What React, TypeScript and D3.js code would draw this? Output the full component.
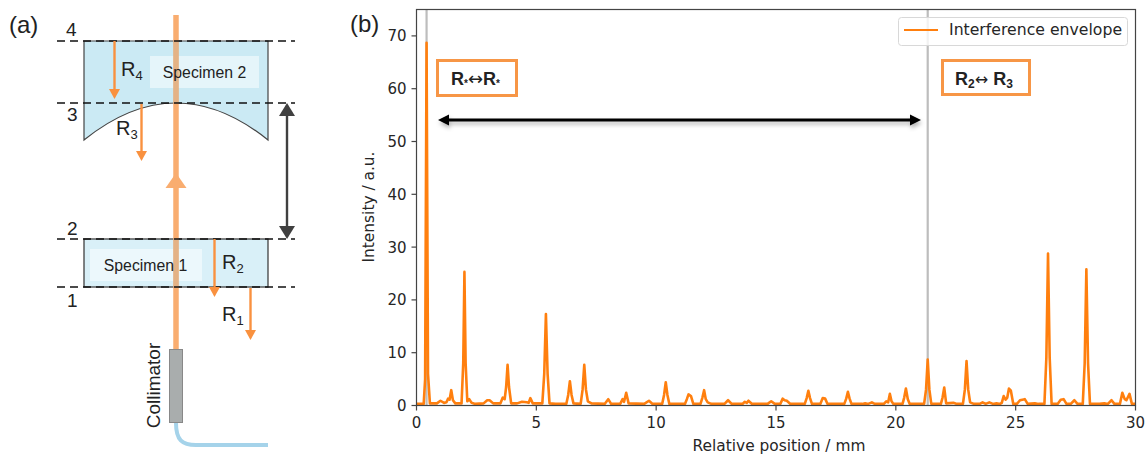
import React from 'react'
import * as d3 from 'd3'

const WIDTH = 1147
const HEIGHT = 457

const xTicks = [0, 5, 10, 15, 20, 25, 30]
const yTicks = [0, 10, 20, 30, 40, 50, 60, 70]
const markerPositions = [0.42, 21.33]

// position in mm
const positions = [
  0, 0.3, 0.36, 0.42, 0.48, 0.56, 0.85, 1.0, 1.15, 1.25, 1.32, 1.38, 1.45, 1.52, 1.62,
  1.88, 1.95, 2.0, 2.05, 2.12, 2.2, 2.3, 2.45, 2.8, 2.95, 3.05, 3.2, 3.5, 3.6, 3.68, 3.74, 3.8, 3.86, 3.95,
  4.2, 4.4, 4.6, 4.68, 4.75, 4.85, 5.25, 5.33, 5.4, 5.47, 5.55, 5.8, 6.25, 6.33, 6.4, 6.47, 6.55,
  6.85, 6.93, 7.0, 7.07, 7.15, 7.3, 7.85, 8.0, 8.12, 8.5, 8.6, 8.66, 8.75, 8.85, 9.5, 9.7, 9.85,
  10.25, 10.33, 10.4, 10.47, 10.55, 11.2, 11.28, 11.35, 11.45, 11.55, 11.85, 11.93, 12.0, 12.07, 12.15, 12.3,
  12.85, 13.0, 13.15, 13.6, 13.7, 13.78, 13.85, 14.0, 14.65, 14.8, 14.95, 15.18, 15.28, 15.36, 15.45, 15.6,
  16.2, 16.28, 16.35, 16.42, 16.5, 16.85, 16.95, 17.05, 17.15, 17.85, 17.93, 18.0, 18.07, 18.15,
  18.6, 18.72, 18.85, 19.0, 19.12, 19.5, 19.6, 19.68, 19.75, 19.82, 19.9, 20.28, 20.35, 20.42, 20.5, 20.58,
  21.18, 21.26, 21.33, 21.4, 21.48, 21.88, 21.95, 22.02, 22.1, 22.4, 22.55,
  22.8, 22.88, 22.95, 23.02, 23.1, 23.25, 23.5, 23.62, 23.75, 23.9, 24.05, 24.2, 24.35,
  24.42, 24.5, 24.58, 24.65, 24.72, 24.8, 24.9, 25.05, 25.18, 25.28, 25.38, 25.5, 25.8, 25.95,
  26.2, 26.28, 26.35, 26.42, 26.5, 26.75, 26.88, 27.0, 27.12, 27.3, 27.45, 27.58,
  27.8, 27.88, 27.95, 28.02, 28.1, 28.5, 28.7, 28.85, 29.0, 29.12, 29.35, 29.45, 29.55, 29.62, 29.75, 29.85, 30,
]

const intensity = [
  0.3, 0.3, 5, 68.7, 6, 0.4, 0.4, 0.9, 0.5, 0.6, 1.3, 1.1, 2.9, 1.0, 0.4,
  0.4, 8, 25.3, 8, 0.8, 1.2, 0.5, 0.3, 0.4, 1.0, 1.0, 0.4, 0.4, 1.5, 1.2, 3.5, 7.7, 3.5, 0.4,
  0.4, 0.7, 0.6, 0.5, 1.4, 0.4, 0.4, 6, 17.3, 6, 0.4, 0.3, 0.3, 2, 4.6, 2, 0.4,
  0.3, 3, 7.7, 3, 0.8, 0.4, 0.3, 1.2, 0.3, 0.3, 1.2, 0.7, 2.4, 0.4, 0.3, 0.9, 0.3,
  0.3, 2, 4.4, 2, 0.3, 0.3, 1.2, 2.1, 1.8, 0.3, 0.3, 1.5, 2.9, 1.2, 0.6, 0.3,
  0.3, 1.0, 0.3, 0.3, 0.7, 0.5, 0.9, 0.3, 0.3, 0.8, 0.3, 0.3, 1.3, 1.0, 0.9, 0.3,
  0.3, 1.4, 2.8, 1.4, 0.3, 0.3, 1.4, 1.3, 0.3, 0.3, 1.3, 2.6, 1.3, 0.3,
  0.3, 0.4, 0.3, 0.6, 0.3, 0.3, 0.8, 0.6, 2.2, 0.8, 0.3, 0.3, 1.5, 3.2, 1.2, 0.3,
  0.3, 3, 8.7, 3, 0.3, 0.3, 1.5, 3.4, 0.4, 0.5, 0.3,
  0.3, 3, 8.4, 3, 0.6, 0.3, 0.3, 0.6, 0.3, 0.6, 0.3, 0.4, 0.3,
  0.5, 1.8, 1.1, 1.5, 3.2, 2.8, 0.3, 0.3, 1.0, 1.1, 1.2, 0.3, 0.4, 0.3,
  0.3, 9, 28.8, 9, 0.3, 0.3, 1.1, 1.2, 0.3, 0.3, 1.0, 0.3,
  0.3, 8, 25.8, 8, 0.3, 0.3, 0.4, 0.3, 1.0, 0.3, 0.3, 2.4, 1.2, 1.0, 2.2, 0.3, 0.3,
]

const ORANGE = '#ff7f0e'
const BOX_ORANGE = '#f79646'
const RAY = '#f9913f'
const BEAM = '#f9ad70'
const DARK = '#404040'
const TEXT = '#262626'
const MPL_FONT = '"DejaVu Sans", sans-serif'
const SANS = '"Liberation Sans", Arial, sans-serif'

const plot = { left: 416.5, right: 1135.5, top: 9.5, bottom: 405.5 }

// the reflected rays of the sketch: x, from y, to y
const rays = [
  [114.5, 41, 99],
  [141.5, 104, 161],
  [214.5, 239, 297],
  [250.5, 288, 340],
]

const dashedLevels = [41, 103, 239, 287]

function Ray({ x, y1, y2 }: { x: number; y1: number; y2: number }) {
  return (
    <g>
      <line x1={x} x2={x} y1={y1} y2={y2 - 8} stroke={RAY} strokeWidth={2.4} />
      <path d={`M${x - 5.5},${y2 - 10}L${x + 5.5},${y2 - 10}L${x},${y2}Z`} fill={RAY} />
    </g>
  )
}

function RLabel({ x, y, n }: { x: number; y: number; n: string }) {
  return (
    <text x={x} y={y} fontFamily={SANS} fontSize={20} fill="#222">
      R<tspan fontSize={13} dy={4}>{n}</tspan>
    </text>
  )
}

function Sketch() {
  return (
    <g>
      <text x={9} y={33} fontFamily={SANS} fontSize={24} fill="#222">(a)</text>

      <path d="M84,41L268,41L268,140Q176,66 84,140Z" fill="#cbeaf4" stroke="#444" strokeWidth={1.2} />
      <rect x={84} y={239} width={184} height={48} fill="#d9f0f8" stroke="#333" strokeWidth={1.2} />
      <rect x={150} y={56} width={109} height={32} fill="#fff" fillOpacity={0.5} />
      <rect x={90} y={249} width={112} height={32} fill="#fff" fillOpacity={0.5} />

      <line x1={176} x2={176} y1={15} y2={350} stroke={BEAM} strokeWidth={5.5} />
      <rect x={173.2} y={41} width={5.6} height={62} fill="#c9b8a0" fillOpacity={0.45} />
      <rect x={173.2} y={239} width={5.6} height={48} fill="#c9b8a0" fillOpacity={0.45} />
      <path d="M176,173L186.5,188L165.5,188Z" fill={BEAM} />

      <text x={204.5} y={78} textAnchor="middle" fontFamily={SANS} fontSize={15.8} fill="#222">Specimen 2</text>
      <text x={145.5} y={271} textAnchor="middle" fontFamily={SANS} fontSize={15.8} fill="#222">Specimen 1</text>

      {dashedLevels.map((y) => (
        <line key={y} x1={57} x2={295} y1={y} y2={y} stroke="#111" strokeWidth={1.6} strokeDasharray="8 5" />
      ))}

      {rays.map(([x, y1, y2]) => (
        <Ray key={x} x={x} y1={y1} y2={y2} />
      ))}

      <RLabel x={121} y={76} n="4" />
      <RLabel x={116} y={135} n="3" />
      <RLabel x={222} y={269} n="2" />
      <RLabel x={222} y={321} n="1" />

      <text x={66} y={36} fontFamily={SANS} fontSize={19} fill="#222">4</text>
      <text x={67} y={121} fontFamily={SANS} fontSize={19} fill="#222">3</text>
      <text x={67} y={235} fontFamily={SANS} fontSize={19} fill="#222">2</text>
      <text x={67} y={307} fontFamily={SANS} fontSize={19} fill="#222">1</text>

      <line x1={287} x2={287} y1={112} y2={230} stroke={DARK} strokeWidth={2.4} />
      <path d="M287,103L295,116L279,116Z" fill={DARK} />
      <path d="M287,239L295,226L279,226Z" fill={DARK} />

      <path d="M176,423C176,440 182,445 196,445L268,445" fill="none" stroke="#a5d3ea" strokeWidth={4} />
      <rect x={169.5} y={349.5} width={13} height={73} fill="#a9adad" stroke="#888" />
      <text transform="translate(159.5,385.5) rotate(-90)" textAnchor="middle" fontFamily={SANS} fontSize={19} fill="#222">
        Collimator
      </text>
    </g>
  )
}

function Envelope() {
  const x = d3.scaleLinear().domain([0, 30]).range([plot.left, plot.right])
  const y = d3.scaleLinear().domain([0, 75]).range([plot.bottom, plot.top])
  const line = d3
    .line<number>()
    .x((d) => x(d))
    .y((_, i) => y(intensity[i]))
  const arrowY = 120
  return (
    <g fontFamily={MPL_FONT} fill={TEXT}>
      <text x={350} y={32} fontFamily={SANS} fontSize={24} fill="#222">(b)</text>

      <defs>
        <clipPath id="plot-area">
          <rect x={plot.left} y={plot.top} width={plot.right - plot.left} height={plot.bottom - plot.top} />
        </clipPath>
        <filter id="soft-shadow" x="-5%" y="-200%" width="110%" height="500%">
          <feDropShadow dx={1} dy={3} stdDeviation={2} floodColor="#000" floodOpacity={0.3} />
        </filter>
      </defs>

      {markerPositions.map((m) => (
        <line key={m} x1={x(m)} x2={x(m)} y1={plot.top} y2={plot.bottom} stroke="#bdbdbd" strokeWidth={2.2} />
      ))}
      <path
        d={line(positions) ?? ''}
        fill="none"
        stroke={ORANGE}
        strokeWidth={2.6}
        strokeLinejoin="round"
        clipPath="url(#plot-area)"
      />
      <rect
        x={plot.left}
        y={plot.top}
        width={plot.right - plot.left}
        height={plot.bottom - plot.top}
        fill="none"
        stroke="#444"
        strokeWidth={1.2}
      />

      {xTicks.map((t) => (
        <g key={t} transform={`translate(${x(t)},${plot.bottom})`}>
          <line y2={5} stroke="#444" strokeWidth={1.2} />
          <text y={22} textAnchor="middle" fontSize={15}>{t}</text>
        </g>
      ))}
      {yTicks.map((t) => (
        <g key={t} transform={`translate(${plot.left},${y(t)})`}>
          <line x2={-5} stroke="#444" strokeWidth={1.2} />
          <text x={-10} y={5.5} textAnchor="end" fontSize={15}>{t}</text>
        </g>
      ))}
      <text x={779} y={451} textAnchor="middle" fontSize={15.4}>Relative position / mm</text>
      <text transform="translate(374,207) rotate(-90)" textAnchor="middle" fontSize={15.4}>Intensity / a.u.</text>

      <rect x={898.5} y={17.5} width={229} height={28} rx={3} fill="#fff" fillOpacity={0.8} stroke="#d8d8d8" />
      <line x1={904} x2={938} y1={30} y2={30} stroke={ORANGE} strokeWidth={2.2} />
      <text x={949} y={35} fontSize={15.7}>Interference envelope</text>

      <g filter="url(#soft-shadow)">
        <line x1={445} x2={914} y1={arrowY} y2={arrowY} stroke="#000" strokeWidth={3} />
        <path d={`M438,${arrowY}L449,${arrowY - 5.5}L449,${arrowY + 5.5}Z`} fill="#000" />
        <path d={`M921,${arrowY}L910,${arrowY - 5.5}L910,${arrowY + 5.5}Z`} fill="#000" />
      </g>

      <rect x={437.5} y={60.5} width={79} height={35} fill="#fff" stroke={BOX_ORANGE} strokeWidth={3} />
      <text x={451} y={85} fontFamily={SANS} fontWeight={700} fontSize={18} fill="#222">
        R<tspan fontSize={10} dy={2}>*</tspan>
        <tspan fontWeight={400} fontSize={18} fontFamily={MPL_FONT} dy={-2}>↔</tspan>R<tspan fontSize={10} dy={2}>*</tspan>
      </text>
      <rect x={942.5} y={60.5} width={87} height={34} fill="#fff" stroke={BOX_ORANGE} strokeWidth={3} />
      <text x={955} y={85} fontFamily={SANS} fontWeight={700} fontSize={18} fill="#222">
        R<tspan fontSize={12} dy={3}>2</tspan>
        <tspan fontWeight={400} fontSize={16} fontFamily={MPL_FONT} dy={-3}>↔ </tspan>R<tspan fontSize={12} dy={3}>3</tspan>
      </text>
    </g>
  )
}

export default function App() {
  return (
    <svg
      width={WIDTH}
      height={HEIGHT}
      viewBox={`0 0 ${WIDTH} ${HEIGHT}`}
      style={{ position: 'absolute', left: 0, top: 0, background: '#fff' }}
    >
      <Sketch />
      <Envelope />
    </svg>
  )
}
